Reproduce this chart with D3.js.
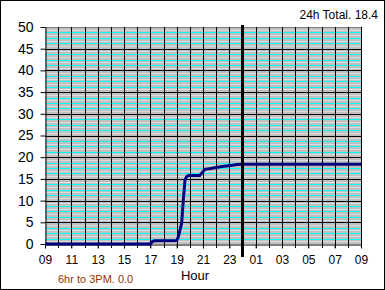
<!DOCTYPE html>
<html>
<head>
<meta charset="utf-8">
<script src="https://cdn.jsdelivr.net/npm/d3@7"></script>
<style>
  body { margin: 0; background: #fff; }
  text { font-family: "Liberation Sans", Arial, sans-serif; }
</style>
</head>
<body>
<svg width="385" height="290"></svg>
<script>
// hours since 09:00 and rain total (mm)
const hours = [0, 8.0, 8.1, 8.3, 10.0, 10.12, 10.25, 10.38, 10.5, 10.63, 10.75, 10.9, 11.2, 11.75, 11.95, 12.15, 12.6, 13.1, 13.6, 14.1, 14.6, 14.9, 24];
const rain  = [0, 0, 0.4, 0.76, 0.8, 1.6, 3.2, 4.8, 10, 14.7, 15.5, 15.8, 15.8, 15.8, 16.5, 17.2, 17.4, 17.7, 17.9, 18.1, 18.3, 18.4, 18.4];
const xTicks = d3.range(0, 25, 2);
const yTicks = d3.range(0, 51, 5);
const totalLabel = "24h Total. 18.4";
const partLabel = "6hr to 3PM. 0.0";

const width = 385, height = 290;
const svg = d3.select("svg");

svg.append("rect")
  .attr("x", 0.5).attr("y", 0.5)
  .attr("width", width - 1).attr("height", height - 1)
  .attr("fill", "#fff").attr("stroke", "#000");

const x = d3.scaleLinear().domain([0, 24]).range([45, 361]);
const y = d3.scaleLinear().domain([0, 50]).range([244, 27]);

// plot background
svg.append("rect")
  .attr("x", x(0)).attr("y", y(50))
  .attr("width", x(24) - x(0)).attr("height", y(0) - y(50))
  .attr("fill", "#c0c0c0");

// minor horizontal lines: light grey every 0.625 offset, cyan every 1.25
const py = d => Math.round(y(d)) + 0.5;
const light = d3.range(0.625, 50, 1.25);
svg.selectAll(".light").data(light).enter().append("line")
  .attr("x1", x(0)).attr("x2", x(24))
  .attr("y1", py).attr("y2", py)
  .attr("stroke", "#dcdcdc");
const cyan = d3.range(1.25, 50, 1.25).filter(d => d % 5 != 0);
svg.selectAll(".cyan").data(cyan).enter().append("line")
  .attr("x1", x(0)).attr("x2", x(24))
  .attr("y1", py).attr("y2", py)
  .attr("stroke", "#00ffff");

// major horizontal lines
svg.selectAll(".major").data(yTicks.filter(d => d > 0 && d < 50)).enter().append("line")
  .attr("x1", x(0)).attr("x2", x(24))
  .attr("y1", py).attr("y2", py)
  .attr("stroke", "#000");

// top border
svg.append("line")
  .attr("x1", x(0)).attr("x2", x(24))
  .attr("y1", py(50)).attr("y2", py(50))
  .attr("stroke", "#808080");

// vertical hour lines (extend below as ticks)
svg.selectAll(".vline").data(d3.range(1, 25)).enter().append("line")
  .attr("x1", d => Math.round(x(d)) + 0.5).attr("x2", d => Math.round(x(d)) + 0.5)
  .attr("y1", y(50)).attr("y2", y(0) + 4)
  .attr("stroke", "#000");

// axes
const xAxis = svg.append("g")
  .attr("transform", "translate(0," + py(0) + ")")
  .call(d3.axisBottom(x).tickValues(xTicks).tickSize(4).tickSizeOuter(0)
    .tickFormat(d => String((9 + d) % 24).padStart(2, "0")));
xAxis.select(".domain").attr("stroke", "#000");
xAxis.selectAll("text").attr("font-size", 12).attr("dy", "1.05em").attr("fill", "#000")
  .style("font-family", "'Liberation Sans', Arial, sans-serif");

const yAxis = svg.append("g")
  .attr("transform", "translate(" + (Math.round(x(0)) + 0.5) + ",0)")
  .call(d3.axisLeft(y).tickValues(yTicks).tickSize(5).tickSizeOuter(0));
yAxis.select(".domain").attr("stroke", "#000");
yAxis.selectAll("text").attr("font-size", 14).attr("x", -12).attr("fill", "#000")
  .style("font-family", "'Liberation Sans', Arial, sans-serif");

// rain line
const line = d3.line().x((d, i) => x(hours[i])).y(d => y(d));
svg.append("path")
  .datum(rain)
  .attr("d", line)
  .attr("fill", "none")
  .attr("stroke", "#000080")
  .attr("stroke-width", 3);

// midnight marker
svg.append("line")
  .attr("x1", x(15)).attr("x2", x(15))
  .attr("y1", 25).attr("y2", 257)
  .attr("stroke", "#000").attr("stroke-width", 3);

svg.append("text")
  .attr("x", 195).attr("y", 280)
  .attr("text-anchor", "middle").attr("font-size", 13)
  .text("Hour");

svg.append("text")
  .attr("x", 58).attr("y", 283)
  .attr("font-size", 11).attr("fill", "#993300")
  .text(partLabel);

svg.append("text")
  .attr("x", 378).attr("y", 19)
  .attr("text-anchor", "end").attr("font-size", 12)
  .text(totalLabel);
</script>
</body>
</html>
